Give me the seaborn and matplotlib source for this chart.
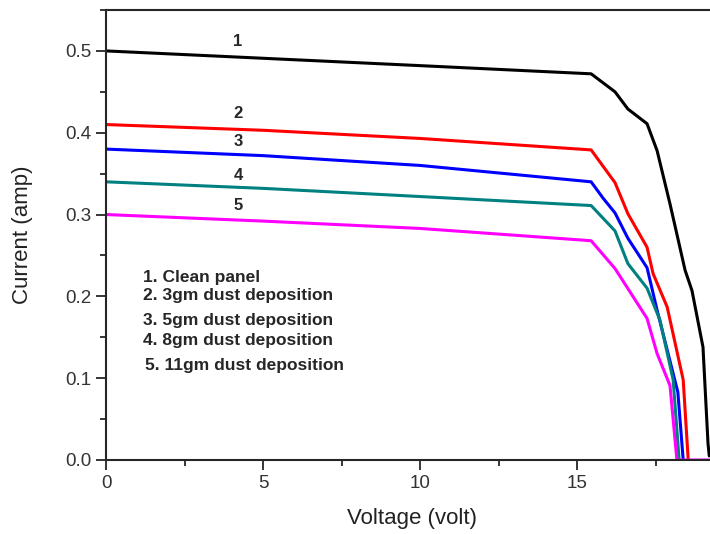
import matplotlib
matplotlib.use('Agg')
import matplotlib.pyplot as plt
import seaborn as sns
from matplotlib.ticker import MultipleLocator

# I-V curves
clean_v = [0, 5, 10, 15.44, 16.2, 16.61, 17.22, 17.54, 17.95, 18.43, 18.65, 19.0, 19.16, 19.2]
clean_i = [0.500, 0.491, 0.482, 0.472, 0.450, 0.429, 0.411, 0.378, 0.313, 0.232, 0.207, 0.138, 0.020, 0.005]

dust3_v = [0, 5, 10, 15.44, 16.2, 16.61, 17.22, 17.41, 17.86, 18.37, 18.53]
dust3_i = [0.410, 0.403, 0.393, 0.379, 0.339, 0.301, 0.260, 0.228, 0.187, 0.098, 0.0]

dust5_v = [0, 5, 10, 15.44, 15.82, 16.2, 16.61, 17.22, 17.54, 18.2, 18.37]
dust5_i = [0.380, 0.372, 0.360, 0.340, 0.320, 0.302, 0.271, 0.235, 0.183, 0.083, 0.0]

dust8_v = [0, 5, 10, 15.44, 16.2, 16.61, 17.22, 17.63, 18.05, 18.24]
dust8_i = [0.340, 0.332, 0.322, 0.311, 0.280, 0.240, 0.210, 0.171, 0.098, 0.0]

dust11_v = [0, 5, 10, 15.44, 16.2, 17.22, 17.54, 17.95, 18.17, 19.5]
dust11_i = [0.300, 0.292, 0.283, 0.268, 0.234, 0.173, 0.130, 0.091, 0.0, 0.0]

curve_labels = ['1', '2', '3', '4', '5']
label_y = [0.512, 0.424, 0.389, 0.348, 0.311]
legend_lines = ['1. Clean panel', '2. 3gm dust deposition', '3. 5gm dust deposition',
                '4. 8gm dust deposition', '5. 11gm dust deposition']
legend_y = [0.223, 0.201, 0.170, 0.146, 0.116]

colors = ['#000000', '#ff0000', '#0000ff', '#008080', '#ff00ff']

sns.set_style('ticks')
plt.rcParams['font.family'] = ['Liberation Sans', 'DejaVu Sans']

fig = plt.figure(figsize=(7.1, 5.34), dpi=100)
# right spine falls just outside the canvas, as in the original
ax = fig.add_axes([106 / 710, 74 / 534, 612.7 / 710, 450 / 534])

series = [(clean_v, clean_i), (dust3_v, dust3_i), (dust5_v, dust5_i),
          (dust8_v, dust8_i), (dust11_v, dust11_i)]
for (v, i), c in zip(series, colors):
    sns.lineplot(x=v, y=i, color=c, linewidth=2.2, sort=False, estimator=None, ax=ax)

for lab, y in zip(curve_labels, label_y):
    ax.text(4.2, y, lab, fontsize=12, fontweight='bold', ha='center', va='center')

for n, (txt, y) in enumerate(zip(legend_lines, legend_y)):
    ax.text(1.18 if n < 4 else 1.25, y, txt, fontsize=12.5, fontweight='bold',
            ha='left', va='center')

ax.set_xlim(0, 19.5)
ax.set_ylim(0, 0.55)
ax.xaxis.set_major_locator(MultipleLocator(5))
ax.xaxis.set_minor_locator(MultipleLocator(2.5))
ax.yaxis.set_major_locator(MultipleLocator(0.1))
ax.yaxis.set_minor_locator(MultipleLocator(0.05))
ax.tick_params(which='major', length=7, width=1.3, pad=3.5, labelsize=13.5,
               labelcolor='#333333')
ax.tick_params(which='minor', length=4, width=1.3)
ax.set_xlabel('Voltage (volt)', fontsize=16, color='#222222', va='center')
ax.set_ylabel('Current (amp)', fontsize=16, color='#222222', va='center')
ax.xaxis.set_label_coords(0.5, -0.129)
ax.yaxis.set_label_coords(-0.137, 0.5)
for s in ax.spines.values():
    s.set_linewidth(1.5)

fig.savefig('out.png', dpi=100)
